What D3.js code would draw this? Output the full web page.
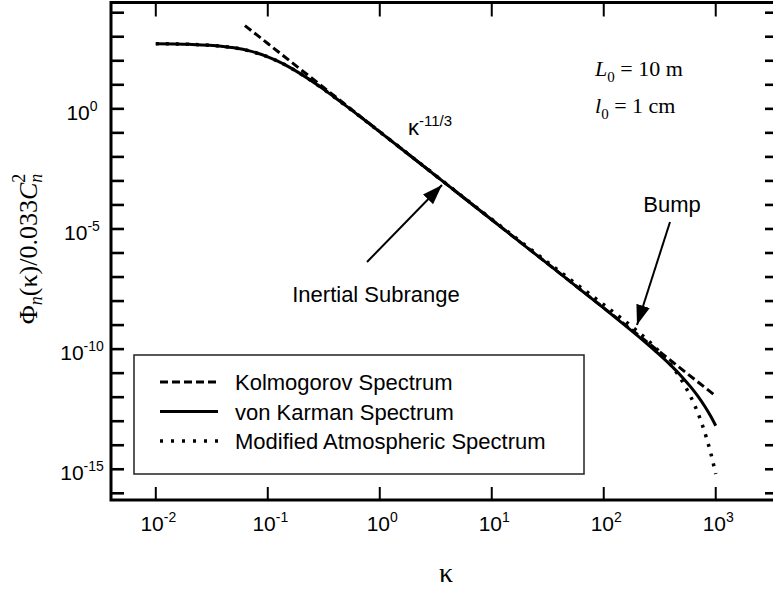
<!DOCTYPE html>
<html>
<head>
<meta charset="utf-8">
<script src="https://cdn.jsdelivr.net/npm/d3@7"></script>
<style>
  html, body { margin: 0; padding: 0; background: #fff; }
  svg { display: block; }
</style>
</head>
<body>
<svg id="chart" width="773" height="591"></svg>
<script>
// ---- data ----
const kappaVK = [0.01,0.02,0.03,0.04,0.05,0.07,0.1,0.12,0.15,0.2,0.25,0.3,0.4,0.5,0.7,1,2,5,10,20,50,100,150,200,250,300,400,500,600,700,800,900,1000];
const vonKarman = [512,484,445,396,346,251,146,101,60.0,27.2,13.8,7.64,2.89,1.33,0.400,0.110,8.79e-3,3.07e-4,2.42e-5,1.90e-6,6.56e-8,5.06e-9,1.10e-9,3.66e-10,1.51e-10,7.18e-11,2.05e-11,6.98e-12,2.61e-12,1.03e-12,4.09e-13,1.64e-13,6.47e-14];
const modifiedAtm = [512,484,445,396,346,251,146,101,60.0,27.2,13.8,7.64,2.89,1.33,0.400,0.1106,8.88e-3,3.15e-4,2.54e-5,2.09e-6,8.04e-8,7.05e-9,1.64e-9,5.53e-10,2.23e-10,9.77e-11,2.13e-11,4.76e-12,1.01e-12,1.95e-13,3.32e-14,4.95e-15,6.38e-16];
const kappaK = [0.0625,0.1,1,10,100,1000];
const kolmogorov = [2920,521,0.112,2.42e-5,5.21e-9,1.12e-12];

const xTickExps = [-2,-1,0,1,2,3];
const yMajorExps = [0,-5,-10,-15];
const yTickExps = d3.range(-16,5);
const legendLabels = ["Kolmogorov Spectrum","von Karman Spectrum","Modified Atmospheric Spectrum"];

// ---- layout ----
const L = 111, R = 778, T = 2.5, B = 500;
const svg = d3.select("#chart");
const x = d3.scaleLog().domain([Math.pow(10,-2.4), Math.pow(10,3.556)]).range([L, R]);
const y = d3.scaleLog().domain([Math.pow(10,-16.279), Math.pow(10,4.425)]).range([B, T]);

const sans = "'Liberation Sans', Arial, sans-serif";
const serif = "'Liberation Serif', 'Times New Roman', serif";

// clip
svg.append("clipPath").attr("id","clip").append("rect")
  .attr("x",L).attr("y",T).attr("width",R-L).attr("height",B-T);

// ---- ticks ----
const tickG = svg.append("g");
xTickExps.forEach(e => {
  const px = x(Math.pow(10,e));
  tickG.append("line").attr("x1",px).attr("x2",px).attr("y1",B).attr("y2",B-13)
    .attr("stroke","#000").attr("stroke-width",2);
  tickG.append("line").attr("x1",px).attr("x2",px).attr("y1",T).attr("y2",T+14)
    .attr("stroke","#000").attr("stroke-width",2);
  const t = svg.append("text").attr("x",px+2.5).attr("y",531)
    .attr("text-anchor","middle").attr("font-family",sans).attr("font-size",21);
  t.append("tspan").text("10");
  t.append("tspan").attr("dy",-9).attr("font-size",14).text(String(e));
});
yTickExps.forEach(e => {
  const py = y(Math.pow(10,e));
  tickG.append("line").attr("x1",L).attr("x2",L+13).attr("y1",py).attr("y2",py)
    .attr("stroke","#000").attr("stroke-width",2.6);
  tickG.append("line").attr("x1",R).attr("x2",R-13).attr("y1",py).attr("y2",py)
    .attr("stroke","#000").attr("stroke-width",2.6);
});
yMajorExps.forEach(e => {
  const py = y(Math.pow(10,e));
  const t = svg.append("text").attr("x",82).attr("y",py+11)
    .attr("text-anchor","middle").attr("font-family",sans).attr("font-size",21);
  t.append("tspan").text("10");
  t.append("tspan").attr("dy",-9).attr("font-size",14).text(String(e));
});

// frame
svg.append("rect").attr("x",L).attr("y",T).attr("width",R-L).attr("height",B-T)
  .attr("fill","none").attr("stroke","#000").attr("stroke-width",3);

// ---- curves ----
const line = d3.line().x(d => x(d[0])).y(d => y(d[1])).curve(d3.curveMonotoneX);
const plot = svg.append("g").attr("clip-path","url(#clip)");
plot.append("path").datum(kappaVK.map((k,i)=>[k,vonKarman[i]]))
  .attr("d",line).attr("fill","none").attr("stroke","#000").attr("stroke-width",3);
plot.append("path").datum(kappaVK.map((k,i)=>[k,modifiedAtm[i]]))
  .attr("d",line).attr("fill","none").attr("stroke","#000").attr("stroke-width",3.5)
  .attr("stroke-dasharray","3,7");
plot.append("path").datum(kappaK.map((k,i)=>[k,kolmogorov[i]]))
  .attr("d",line).attr("fill","none").attr("stroke","#000").attr("stroke-width",3)
  .attr("stroke-dasharray","8,4");

// ---- legend ----
svg.append("rect").attr("x",134).attr("y",355).attr("width",450).attr("height",119)
  .attr("fill","#fff").attr("stroke","#222").attr("stroke-width",1.5);
const dashes = ["8,4", null, "3,8"];
const widths = [3, 3, 3.5];
legendLabels.forEach((lab,i) => {
  const ly = 382 + i*29.5;
  const ln = svg.append("line").attr("x1",160).attr("x2",218).attr("y1",ly).attr("y2",ly)
    .attr("stroke","#000").attr("stroke-width",widths[i]);
  if (dashes[i]) ln.attr("stroke-dasharray",dashes[i]);
  svg.append("text").attr("x",235).attr("y",ly+8).attr("font-family",sans)
    .attr("font-size",22).text(lab);
});

// ---- annotations ----
svg.append("defs").append("marker").attr("id","arrow").attr("viewBox","0 0 20 14")
  .attr("refX",20).attr("refY",7).attr("markerWidth",20).attr("markerHeight",14)
  .attr("markerUnits","userSpaceOnUse").attr("orient","auto")
  .append("path").attr("d","M0,0 L20,7 L0,14 Z").attr("fill","#000");

svg.append("line").attr("x1",367).attr("y1",262).attr("x2",442).attr("y2",185)
  .attr("stroke","#000").attr("stroke-width",2).attr("marker-end","url(#arrow)");
svg.append("text").attr("x",376).attr("y",302).attr("text-anchor","middle")
  .attr("font-family",sans).attr("font-size",22).text("Inertial Subrange");

svg.append("line").attr("x1",670).attr("y1",222).attr("x2",637).attr("y2",325)
  .attr("stroke","#000").attr("stroke-width",2).attr("marker-end","url(#arrow)");
svg.append("text").attr("x",672).attr("y",212).attr("text-anchor","middle")
  .attr("font-family",sans).attr("font-size",22).text("Bump");

const kt = svg.append("text").attr("x",408).attr("y",135).attr("font-family",sans).attr("font-size",22);
kt.append("tspan").text("κ");
kt.append("tspan").attr("dy",-9).attr("font-size",15).text("-11/3");

const l1 = svg.append("text").attr("x",595).attr("y",76).attr("font-family",serif).attr("font-size",22);
l1.append("tspan").attr("font-style","italic").text("L");
l1.append("tspan").attr("dy",6).attr("font-size",15).text("0");
l1.append("tspan").attr("dy",-6).text(" = 10 m");
const l2 = svg.append("text").attr("x",595).attr("y",113).attr("font-family",serif).attr("font-size",22);
l2.append("tspan").attr("font-style","italic").text("l");
l2.append("tspan").attr("dy",6).attr("font-size",15).text("0");
l2.append("tspan").attr("dy",-6).text(" = 1 cm");

// axis titles
svg.append("text").attr("x",446).attr("y",582).attr("text-anchor","middle")
  .attr("font-family",serif).attr("font-size",28).text("κ");

const yl = svg.append("text").attr("transform","translate(37,249) rotate(-90)")
  .attr("text-anchor","middle").attr("font-family",serif).attr("font-size",26);
yl.append("tspan").text("Φ");
yl.append("tspan").attr("font-style","italic").attr("font-size",18).attr("dy",5).text("n");
yl.append("tspan").attr("dy",-5).text("(κ)/0.033");
yl.append("tspan").attr("font-style","italic").text("C");
yl.append("tspan").attr("font-style","italic").attr("font-size",18).attr("dy",5).text("n");
yl.append("tspan").attr("font-size",18).attr("dx",-9).attr("dy",-17).text("2");
</script>
</body>
</html>
